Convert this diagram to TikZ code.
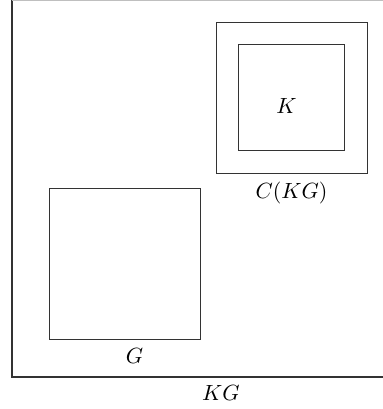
\documentclass[tikz,border=0pt]{standalone}
\begin{document}
\begin{tikzpicture}[x=0.4545pt,y=-0.4545pt,
  box/.style={draw=black!80, line width=0.5pt},
  lbl/.style={inner sep=0pt}]
\useasboundingbox (0,0) rectangle (383,409);
\begin{scope}
\clip (0,0) rectangle (383,409);
\coordinate (tl) at (12,0);
\coordinate (bl) at (12,377);
\coordinate (br) at (400,377);
\coordinate (tr) at (400,0);
\draw[box] (tl) -- (bl) -- (br);
\draw[draw=black!25, line width=0.5pt] (tl) -- (tr);
\end{scope}
\draw[box] (216.3,22.3) rectangle (367.3,173.3);
\draw[box] (238.3,44.3) rectangle (344.3,150.5);
\draw[box] (49.3,188.3) rectangle (200.5,339.5);
\node[lbl] (k) at (286.5,106) {$K$};
\node[lbl] (ckg) at (291.5,193) {$C(KG)$};
\node[lbl] (g) at (134.5,356) {$G$};
\node[lbl] (kg) at (221,392.5) {$KG$};
\end{tikzpicture}
\end{document}
